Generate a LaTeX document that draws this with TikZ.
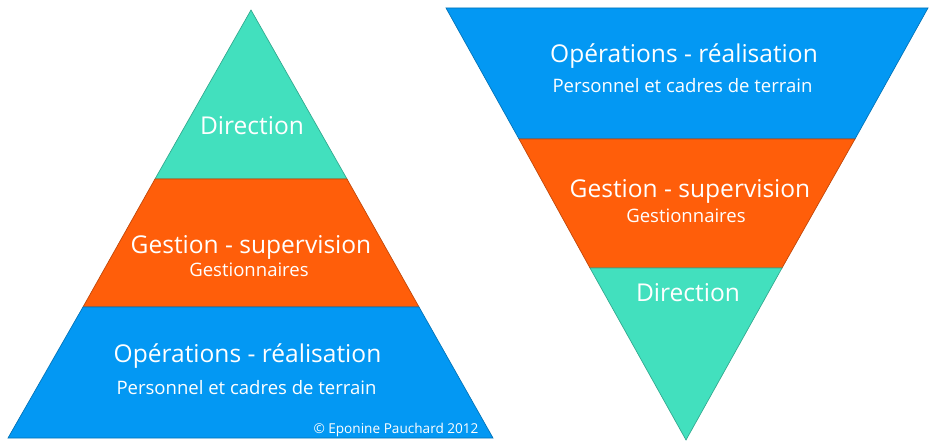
\documentclass[tikz,border=0pt]{standalone}
\usepackage{fontspec}
\setmainfont{Open Sans}
\usepackage{tikz}
\definecolor{dirteal}{HTML}{42E0BE}
\definecolor{gestorange}{HTML}{FF5E0A}
\definecolor{opblue}{HTML}{0398F3}
\tikzset{
  band/.style={draw=#1!75!black, fill=#1, line width=0.5pt},
  title/.style={text=white, font=\fontsize{18.4}{22}\selectfont, inner sep=0pt, anchor=base},
  sub/.style={text=white, font=\fontsize{13.9}{16}\selectfont, inner sep=0pt, anchor=base},
}

\begin{document}
\begin{tikzpicture}[x=0.75pt, y=-0.75pt]
    \useasboundingbox (0,0) rectangle (938,448);
    % left pyramid
    \draw[band=dirteal] (251,10) -- (155,179) -- (347,179) -- cycle;
    \draw[band=gestorange] (155,179) -- (83,307) -- (419,307) -- (347,179) -- cycle;
    \draw[band=opblue] (83,307) -- (8,438) -- (493,438) -- (419,307) -- cycle;
    \node[title] (Ldir) at (252,135) {Direction};
    \node[title] (Lgest) at (251,254) {Gestion - supervision};
    \node[sub] (Lgestsub) at (249,277) {Gestionnaires};
    \node[title] (Lop) at (247.5,363) {Opérations - réalisation};
    \node[sub] (Lopsub) at (246.5,395) {Personnel et cadres de terrain};
    \node[sub, font=\fontsize{10.2}{12}\selectfont] (copy) at (396,433) {© Eponine Pauchard 2012};
    % right pyramid, upside down
    \draw[band=opblue] (446,8) -- (928,8) -- (855,139) -- (519,139) -- cycle;
    \draw[band=gestorange] (519,139) -- (855,139) -- (782,268) -- (590,268) -- cycle;
    \draw[band=dirteal] (590,268) -- (782,268) -- (686,440) -- cycle;
    \node[title] (Rop) at (684,63) {Opérations - réalisation};
    \node[sub] (Ropsub) at (682.5,93) {Personnel et cadres de terrain};
    \node[title] (Rgest) at (690,198) {Gestion - supervision};
    \node[sub] (Rgestsub) at (686,223) {Gestionnaires};
    \node[title] (Rdir) at (688,302) {Direction};
\end{tikzpicture}
\end{document}
